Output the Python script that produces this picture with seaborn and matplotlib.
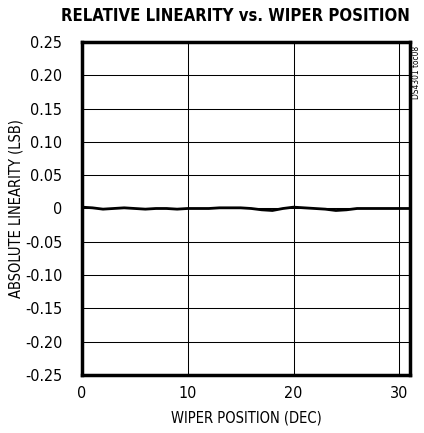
import seaborn as sns
import pandas as pd
import matplotlib.pyplot as plt

# wiper position vs. linearity error (LSB)
wiper_pos = list(range(32))
linearity = [0.002, 0.001, -0.001, 0.0, 0.001, 0.0, -0.001, 0.0,
             0.0, -0.001, 0.0, 0.0, 0.0, 0.001, 0.001, 0.001,
             0.0, -0.002, -0.003, 0.0, 0.002, 0.001, 0.0, -0.001,
             -0.003, -0.002, 0.0, 0.0, 0.0, 0.0, 0.0, 0.0]

x_ticks = [0, 10, 20, 30]
y_ticks = [0.25, 0.20, 0.15, 0.10, 0.05, 0, -0.05, -0.10, -0.15, -0.20, -0.25]
y_labels = ['0.25', '0.20', '0.15', '0.10', '0.05', '0', '-0.05', '-0.10', '-0.15', '-0.20', '-0.25']

data_df = pd.DataFrame({'pos': wiper_pos, 'lin': linearity})

sns.set_style('white')
plt.rcParams['font.family'] = ['DejaVu Sans']
plt.rcParams['font.stretch'] = 'condensed'
plt.rcParams['text.color'] = 'black'
plt.rcParams['axes.labelcolor'] = 'black'
plt.rcParams['xtick.color'] = 'black'
plt.rcParams['ytick.color'] = 'black'

fig = plt.figure(figsize=(4.24, 4.33), dpi=100)
ax = fig.add_axes([0.193, 0.134, 0.774, 0.769])

sns.lineplot(data=data_df, x='pos', y='lin', color='black', linewidth=2.0, ax=ax)

ax.set_xlim(0, 31)
ax.set_ylim(-0.25, 0.25)
ax.set_xticks(x_ticks)
ax.set_yticks(y_ticks)
ax.set_yticklabels(y_labels)
ax.tick_params(labelsize=11.5, length=0)
ax.tick_params(axis='y', pad=14)
ax.tick_params(axis='x', pad=8)
ax.grid(True, color='black', linewidth=0.75)

for s in ax.spines.values():
    s.set_linewidth(2.5)
    s.set_color('black')

ax.set_xlabel('WIPER POSITION (DEC)', fontsize=10.5, labelpad=7)
ax.set_ylabel('ABSOLUTE LINEARITY (LSB)', fontsize=10.5, labelpad=1)

fig.text(0.967, 0.962, 'RELATIVE LINEARITY vs. WIPER POSITION', ha='right', va='center',
         fontsize=12, fontweight='heavy')
fig.text(0.983, 0.895, 'DS4301 toc08', rotation=90, ha='center', va='top', fontsize=6)

plt.savefig('out.png', dpi=100)
